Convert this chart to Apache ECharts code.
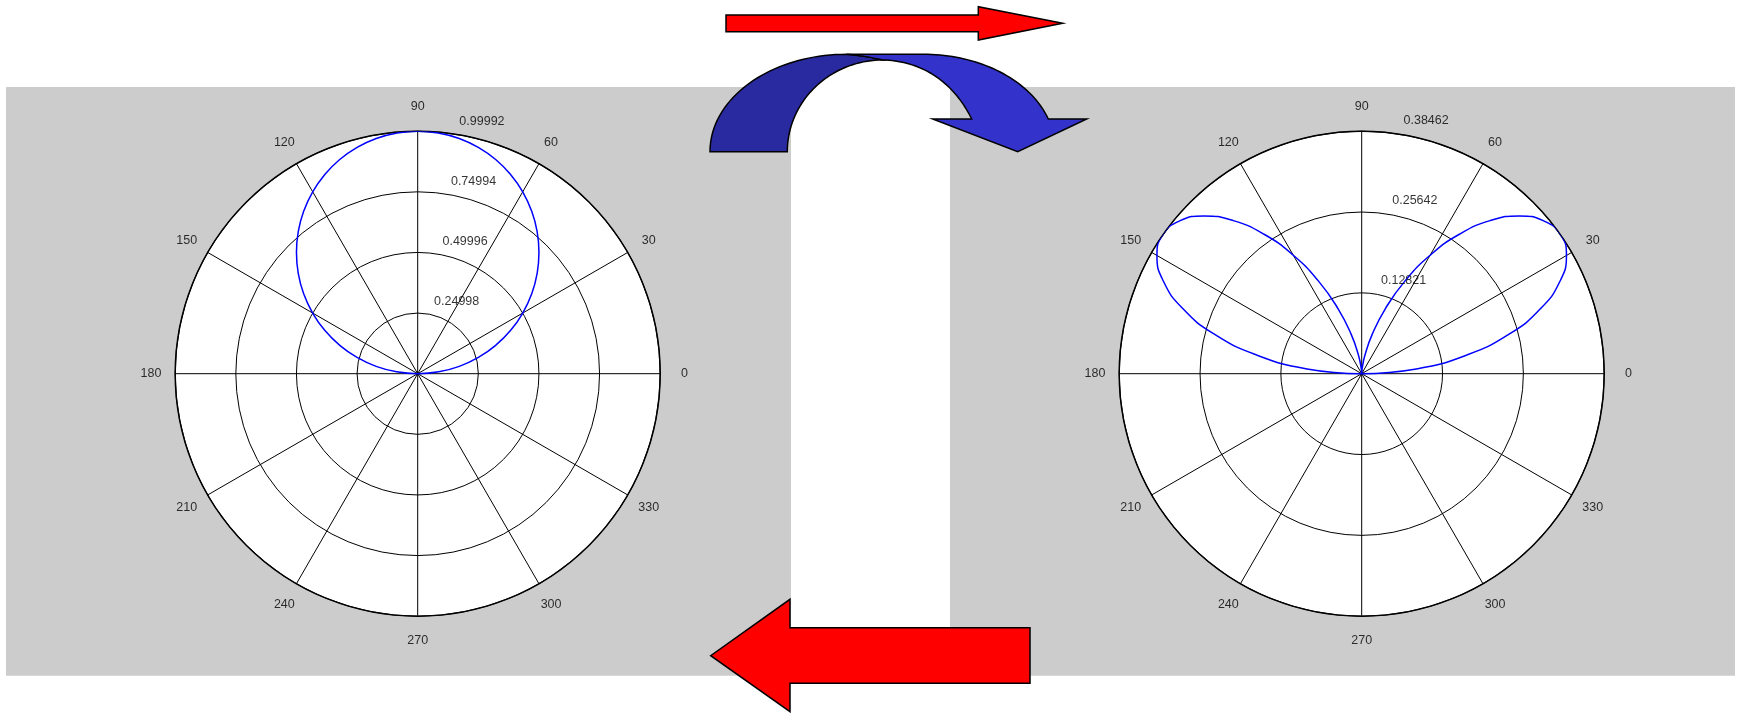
<!DOCTYPE html>
<html>
<head>
<meta charset="utf-8">
<title>Polar patterns</title>
<script src="https://cdn.jsdelivr.net/npm/echarts@6/dist/echarts.min.js"></script>
<style>
  html, body { margin: 0; padding: 0; background: #ffffff; }
  #chart { width: 1738px; height: 713px; }
</style>
</head>
<body>
<div id="chart"></div>
<script>
// Sample angles (degrees) shared by both patterns
const angleDeg = [0, 5, 10, 15, 20, 25, 30, 35, 40, 45, 50, 55, 60, 65, 70, 75, 80, 85, 90,
                  95, 100, 105, 110, 115, 120, 125, 130, 135, 140, 145, 150, 155, 160, 165, 170, 175, 180];

// Left pattern: single upward lobe
const leftR = [0.000, 0.087, 0.174, 0.259, 0.342, 0.423, 0.500, 0.574, 0.643, 0.707, 0.766, 0.819, 0.866, 0.906, 0.940, 0.966, 0.985, 0.996, 0.9999,
               0.996, 0.985, 0.966, 0.940, 0.906, 0.866, 0.819, 0.766, 0.707, 0.643, 0.574, 0.500, 0.423, 0.342, 0.259, 0.174, 0.087, 0.000];

// Right pattern: two side lobes
const rightR = [0.000, 0.087, 0.168, 0.242, 0.302, 0.347, 0.375, 0.385, 0.377, 0.354, 0.317, 0.270, 0.217, 0.162, 0.110, 0.065, 0.030, 0.008, 0.000,
                0.008, 0.030, 0.065, 0.110, 0.162, 0.217, 0.270, 0.317, 0.354, 0.377, 0.385, 0.375, 0.347, 0.302, 0.242, 0.168, 0.087, 0.000];

// Spoke angles and their labels
const spokeAngles = [0, 30, 60, 90, 120, 150, 180, 210, 240, 270, 300, 330];
const spokeLabels = ['0', '30', '60', '90', '120', '150', '180', '210', '240', '270', '300', '330'];

// Ring values and ring labels
const leftRingValues = [0.24998, 0.49996, 0.74994, 0.99992];
const leftRingLabels = ['0.24998', '0.49996', '0.74994', '0.99992'];
const rightRingValues = [0.12821, 0.25642, 0.38463];
const rightRingLabels = ['0.12821', '0.25642', '0.38462'];

const FONT = "'Liberation Sans', Arial, sans-serif";
const FONT_SIZE = 12.5;
const RADIUS = 242.5;
const LABEL_SCALE = 1.2;   // the label layer reaches a bit past the outer ring
const CENTERS = [[417.7, 373.7], [1361.7, 373.7]];

const panels = [
  { r: leftR, ringValues: leftRingValues, ringLabels: leftRingLabels },
  { r: rightR, ringValues: rightRingValues, ringLabels: rightRingLabels }
];

const polar = [], angleAxis = [], radiusAxis = [], series = [];
const hiddenParts = {
  axisLine: { show: false }, axisTick: { show: false }, axisLabel: { show: false },
  splitLine: { show: false }, splitArea: { show: false }
};

// grid layers: polar 0 and 1
panels.forEach((p, i) => {
  const rinc = p.ringValues[0];
  const rmax = p.ringValues[p.ringValues.length - 1];

  polar.push({ center: CENTERS[i], radius: RADIUS });

  angleAxis.push({
    polarIndex: i,
    type: 'value',
    min: 0,
    max: 360,
    interval: 30,
    startAngle: 0,
    clockwise: false,
    axisLine: { show: true, lineStyle: { color: '#000', width: 1.5 } },
    axisTick: { show: false },
    axisLabel: { show: false },
    splitLine: { show: true, lineStyle: { color: '#000', width: 1 } },
    splitArea: { show: false }
  });

  radiusAxis.push({
    polarIndex: i,
    type: 'value',
    min: 0,
    max: rmax,
    interval: rinc,
    axisLine: { show: false },
    axisTick: { show: false },
    axisLabel: { show: false },
    splitLine: { show: true, lineStyle: { color: '#000', width: 1 } },
    splitArea: { show: false }
  });

  // pattern curve
  series.push({
    type: 'line',
    coordinateSystem: 'polar',
    polarIndex: i,
    symbol: 'none',
    smooth: true,
    silent: true,
    z: 5,
    lineStyle: { color: '#0000ff', width: 1.5 },
    data: angleDeg.map((a, k) => [p.r[k], a])
  });
});

// label layers: polar 2 and 3, same centre and same data units, wider range
panels.forEach((p, i) => {
  const rinc = p.ringValues[0];
  const rmax = p.ringValues[p.ringValues.length - 1];
  const li = i + 2;

  polar.push({ center: CENTERS[i], radius: RADIUS * LABEL_SCALE });
  angleAxis.push(Object.assign({
    polarIndex: li, type: 'value', min: 0, max: 360, startAngle: 0, clockwise: false
  }, hiddenParts));
  radiusAxis.push(Object.assign({
    polarIndex: li, type: 'value', min: 0, max: rmax * LABEL_SCALE
  }, hiddenParts));

  // spoke labels centred at 1.1 x the outer ring
  series.push({
    type: 'scatter',
    coordinateSystem: 'polar',
    polarIndex: li,
    symbolSize: 1,
    silent: true,
    itemStyle: { color: 'rgba(0,0,0,0)' },
    z: 6,
    label: {
      show: true,
      position: 'inside',
      formatter: (d) => d.name,
      color: '#000',
      fontFamily: FONT,
      fontSize: FONT_SIZE
    },
    data: spokeAngles.map((a, k) => ({ name: spokeLabels[k], value: [rmax * 1.1, a] }))
  });

  // ring labels along the 82 degree direction
  series.push({
    type: 'scatter',
    coordinateSystem: 'polar',
    polarIndex: li,
    symbolSize: 1,
    silent: true,
    itemStyle: { color: 'rgba(0,0,0,0)' },
    z: 6,
    label: {
      show: true,
      position: 'right',
      distance: 0,
      offset: [7, -9.5],
      formatter: (d) => d.name,
      color: '#000',
      fontFamily: FONT,
      fontSize: FONT_SIZE
    },
    data: p.ringValues.map((v, k) => ({ name: p.ringLabels[k], value: [v + rinc / 20, 82] }))
  });
});

// Flatten a path made of line / quadratic / cubic segments into polygon points
function flatten(start, segs) {
  const pts = [start];
  let cur = start;
  segs.forEach((s) => {
    if (s.length === 1) {
      pts.push(s[0]);
      cur = s[0];
    } else if (s.length === 2) {
      const [c, e] = s;
      for (let k = 1; k <= 24; k++) {
        const t = k / 24, u = 1 - t;
        pts.push([u * u * cur[0] + 2 * u * t * c[0] + t * t * e[0],
                  u * u * cur[1] + 2 * u * t * c[1] + t * t * e[1]]);
      }
      cur = e;
    } else {
      const [c1, c2, e] = s;
      for (let k = 1; k <= 40; k++) {
        const t = k / 40, u = 1 - t;
        pts.push([u * u * u * cur[0] + 3 * u * u * t * c1[0] + 3 * u * t * t * c2[0] + t * t * t * e[0],
                  u * u * u * cur[1] + 3 * u * u * t * c1[1] + 3 * u * t * t * c2[1] + t * t * t * e[1]]);
      }
      cur = e;
    }
  });
  return pts;
}

const backHalf = flatten([710, 151.7], [
  [[710, 97.9], [771, 54.3], [846.7, 54.3]],
  [[868, 55.5], [882.7, 60]],
  [[830.2, 60], [787.3, 101.3], [787.3, 151.7]]
]);

const frontHalf = flatten([846.7, 54.3], [
  [[923.3, 54.3]],
  [[980, 54.3], [1030, 80], [1048.3, 119]],
  [[1086.7, 119]],
  [[1017.7, 151.7]],
  [[932.7, 119]],
  [[971.7, 119]],
  [[955, 85], [925, 61], [882.7, 60]],
  [[865, 56], [846.7, 54.3]]
]);

const outline = { stroke: '#000', lineWidth: 1.5, lineJoin: 'miter' };

const graphic = [
  // figure panels
  { type: 'rect', z: -100, silent: true, shape: { x: 6, y: 87, width: 785, height: 588.7 }, style: { fill: '#cccccc' } },
  { type: 'rect', z: -100, silent: true, shape: { x: 950, y: 87, width: 785, height: 588.7 }, style: { fill: '#cccccc' } },
  // white plot discs
  { type: 'circle', z: -50, silent: true, shape: { cx: CENTERS[0][0], cy: CENTERS[0][1], r: RADIUS }, style: { fill: '#ffffff' } },
  { type: 'circle', z: -50, silent: true, shape: { cx: CENTERS[1][0], cy: CENTERS[1][1], r: RADIUS }, style: { fill: '#ffffff' } },
  // top arrow pointing right
  { type: 'polygon', z: 100, silent: true,
    shape: { points: [[726, 15], [978.3, 15], [978.3, 6.7], [1062.7, 23.3], [978.3, 40], [978.3, 31.7], [726, 31.7]] },
    style: Object.assign({ fill: '#ff0000' }, outline) },
  // curved arrow, back half
  { type: 'polygon', z: 100, silent: true, shape: { points: backHalf },
    style: Object.assign({ fill: '#2a2aa0' }, outline) },
  // curved arrow, front half with head
  { type: 'polygon', z: 101, silent: true, shape: { points: frontHalf },
    style: Object.assign({ fill: '#3333cc' }, outline) },
  // bottom arrow pointing left
  { type: 'polygon', z: 100, silent: true,
    shape: { points: [[1030, 627.7], [790, 627.7], [790, 599.3], [710.7, 655.7], [790, 711.7], [790, 683.3], [1030, 683.3]] },
    style: Object.assign({ fill: '#ff0000' }, outline) }
];

const chart = echarts.init(document.getElementById('chart'), null, { renderer: 'canvas' });
chart.setOption({
  backgroundColor: '#ffffff',
  animation: false,
  polar: polar,
  angleAxis: angleAxis,
  radiusAxis: radiusAxis,
  series: series,
  graphic: { elements: graphic }
});
</script>
</body>
</html>
